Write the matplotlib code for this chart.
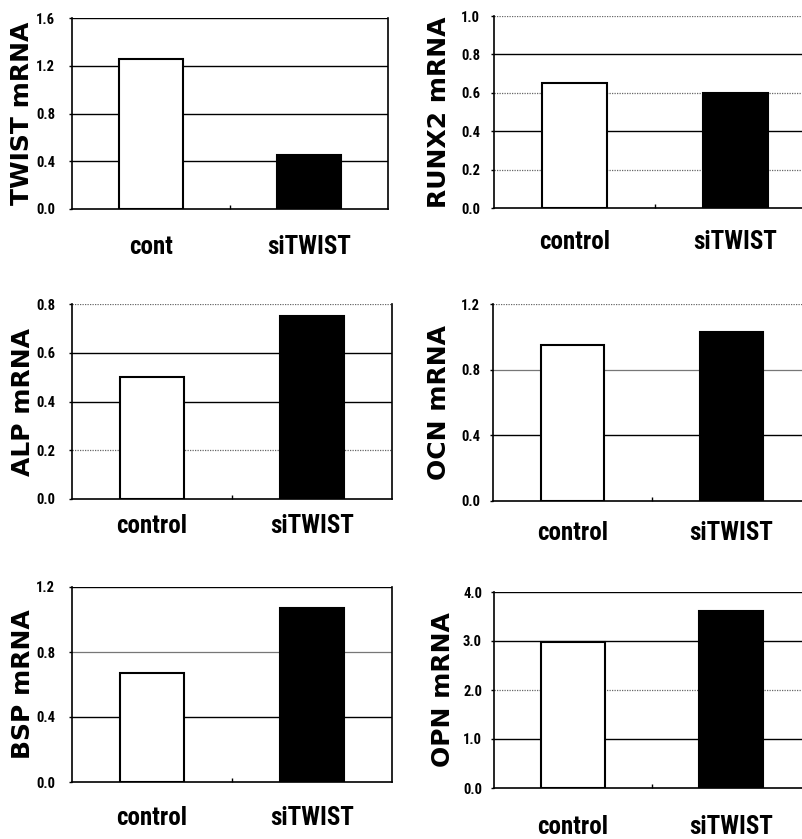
import matplotlib
matplotlib.use("Agg")
import matplotlib.pyplot as plt
from matplotlib import font_manager
from matplotlib.font_manager import FontProperties
from matplotlib.ticker import FixedLocator

# data
genes = ["TWIST", "RUNX2", "ALP", "OCN", "BSP", "OPN"]
control_labels = ["cont", "control", "control", "control", "control", "control"]
treat_label = "siTWIST"
control_values = [1.26, 0.65, 0.50, 0.95, 0.67, 2.97]
sitwist_values = [0.45, 0.60, 0.75, 1.03, 1.07, 3.62]
y_max = [1.6, 1.0, 0.8, 1.2, 1.2, 4.0]
y_step = [0.4, 0.2, 0.2, 0.4, 0.4, 1.0]

# layout (pixels): left, top, right, bottom
FIG_W, FIG_H = 802, 839
boxes = [
    (72, 18, 388, 209),
    (494, 16, 816, 208),
    (72, 304, 392, 499),
    (493, 304, 811, 501),
    (72, 587, 392, 782),
    (494, 592, 810, 788),
]
xlabel_pad = [18.5, 16, 10.5, 14.5, 17.5, 19.5]
ylabel_pad = [10.2, 8, 10.2, 7.3, 10.2, 6.6]
ylabel_x = [22, 439, 23, 439, 23, 443]
# grid style per level above zero: "s" solid black, "d" light dotted, "g" grey
grid_styles = [
    "ssss",
    "dsdsd",
    "dssd",
    "sgd",
    "sgs",
    "sdss",
]

CONDENSED = [
    "LiberationSansNarrow-Bold.",
    "NotoSans-CondensedBold.",
    "RobotoCondensed-Bold.",
    "OpenSans-CondBold.",
    "DejaVuSansCondensed-Bold.",
]


def find_font(prefixes, size):
    # the figure uses an Arial Narrow-like bold face; take the first condensed bold we can find
    files = [f.fname for f in font_manager.fontManager.ttflist]
    for key in prefixes:
        for path in files:
            if path.split("/")[-1].startswith(key):
                return FontProperties(fname=path, size=size)
    return FontProperties(family="DejaVu Sans", weight="bold", size=size)


tick_font = find_font(CONDENSED, 10.5)
cat_font = find_font(CONDENSED, 18)

fig = plt.figure(figsize=(FIG_W / 100, FIG_H / 100), dpi=100)

for i, gene in enumerate(genes):
    left, top, right, bottom = boxes[i]
    ax = fig.add_axes([left / FIG_W, 1 - bottom / FIG_H,
                       (right - left) / FIG_W, (bottom - top) / FIG_H])
    ax.set_xlim(0, 2)
    ax.set_ylim(0, y_max[i])

    n = int(round(y_max[i] / y_step[i]))
    levels = [y_step[i] * k for k in range(n + 1)]
    for lvl, st in zip(levels[1:], grid_styles[i]):
        if st == "s":
            ax.axhline(lvl, color="black", lw=1.0, zorder=1)
        elif st == "g":
            ax.axhline(lvl, color="#777777", lw=0.9, zorder=1)
        else:
            ax.axhline(lvl, color="#666666", lw=0.9, ls=(0, (1, 1)), zorder=1)

    ax.bar([0.5, 1.5], [control_values[i], sitwist_values[i]], width=0.4,
           color=["white", "black"], edgecolor="black", linewidth=1.5, zorder=3)

    ax.spines["top"].set_visible(False)
    for side in ("left", "bottom", "right"):
        ax.spines[side].set_linewidth(1.2)
        ax.spines[side].set_color("black")

    ax.yaxis.set_major_locator(FixedLocator(levels))
    ax.set_yticklabels([f"{v:.1f}" for v in levels], fontproperties=tick_font)
    ax.tick_params(axis="y", length=2, width=1, pad=ylabel_pad[i])

    ax.set_xticks([0.5, 1.5])
    ax.set_xticklabels([control_labels[i], treat_label], fontproperties=cat_font)
    ax.tick_params(axis="x", length=0, pad=xlabel_pad[i])
    ax.xaxis.set_minor_locator(FixedLocator([1.0]))
    ax.tick_params(axis="x", which="minor", direction="in", length=3, width=1)

    ax.set_ylabel(f"{gene} mRNA", fontfamily="DejaVu Sans", fontweight="bold",
                  fontsize=18, va="center")
    ax.yaxis.set_label_coords((ylabel_x[i] - left) / (right - left), 0.5)

fig.savefig("out.png", dpi=100)
